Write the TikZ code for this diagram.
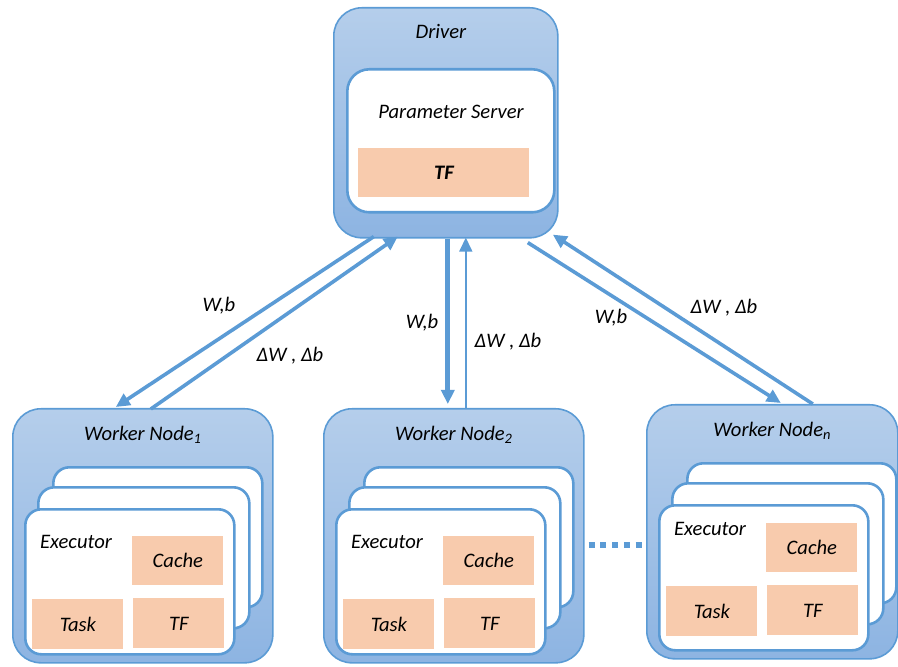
\documentclass[tikz,border=0pt]{standalone}
\usepackage{fontspec}
\setmainfont{Carlito}
\usetikzlibrary{arrows.meta, positioning, calc}
\definecolor{myblue}{RGB}{91,155,213}
\definecolor{boxtop}{RGB}{181,206,235}
\definecolor{boxbot}{RGB}{141,180,226}
\definecolor{mypeach}{RGB}{248,203,173}
\tikzset{
  outerbox/.style={rectangle, draw=myblue, top color=boxtop, bottom color=boxbot,
    rounded corners=14pt, line width=0.8pt, anchor=north west},
  card/.style={rectangle, draw=myblue, fill=white,
    rounded corners=8pt, line width=1.3pt, anchor=north west},
  tfbox/.style={rectangle, fill=mypeach, anchor=north west},
  sz/.style 2 args={minimum width=#1*0.5pt, minimum height=#2*0.5pt, inner sep=0pt},
  title/.style={font=\fontsize{10.3}{12}\selectfont\itshape},
  arrow/.style={-{Triangle[length=7pt,width=6.5pt]}, line width=1.8pt, color=myblue},
  dots/.style={line width=3pt, color=myblue, dash pattern=on 3pt off 2.875pt}
}

% worker: name, x, y, label, inner shift, width
\newcommand{\workernode}[6]{%
  \node[outerbox, sz={#6}{254}] (#1) at (#2,#3) {};
  \begin{scope}[shift={(#2,#3)}]
    \node[title] (#1-lbl) at (#6/2+1,27) {#4};
    \node[card, sz={209}{140}] (#1-c3) at (40,58) {};
    \node[card, sz={211}{141}] (#1-c2) at (25,78) {};
    \node[card, sz={209}{145}] (#1-c1) at (12,100) {};
    \node (#1-exe) at (64,134+#5) {Executor};
    \node[tfbox, sz={91}{49}] (#1-cache) at (120,128+#5) {Cache};
    \node[tfbox, sz={91}{50}] (#1-task) at (20,191+#5) {Task};
    \node[tfbox, sz={91}{50}] (#1-tf) at (121,190+#5) {TF};
  \end{scope}}

\begin{document}
\begin{tikzpicture}[x=0.5pt, y=-0.5pt, font=\fontsize{10.3}{12}\selectfont\itshape]
  \useasboundingbox (0,0) rectangle (898,667);

  % Driver with parameter server
  \node[outerbox, sz={224}{230}] (driver) at (333,7) {};
  \node[title] (drvlbl) at (441,31) {Driver};
  \node[card, rounded corners=11pt, sz={207}{143}] (ps) at (346,68) {};
  \node (pslbl) at (451,112) {Parameter Server};
  \node[tfbox, sz={171}{49}] (pstf) at (358,148) {\textbf{TF}};

  % Worker nodes
  \workernode{w1}{12}{408}{Worker Node\textsubscript{1}}{0}{260}
  \workernode{w2}{323}{408}{Worker Node\textsubscript{2}}{0}{260}
  \workernode{wn}{646}{404}{Worker Node\textsubscript{n}}{-9}{251}

  \draw[dots] ($(w2.east)+(4,9)$) -- ++(53,0);

  % Arrows
  \draw[arrow] ($(driver.south)+(-72,-2)$) -- ($(w1.north)+(-27,-1)$);
  \draw[arrow] ($(w1.north)+(8,1)$) -- ($(driver.south)+(-48,-2)$);
  \draw[arrow, line width=2.6pt] ($(driver.south)+(2,0)$) -- ($(w2.north)+(-6,-4)$);
  \draw[arrow, line width=0.8pt] ($(w2.north)+(12,0)$) -- ($(driver.south)+(20,-1)$);
  \draw[arrow] ($(driver.south)+(82,4)$) -- ($(wn.north)+(8.5,-1)$);
  \draw[arrow] ($(wn.north)+(40.5,0)$) -- ($(driver.south)+(107,-4)$);

  % Labels
  \node (wb1) at (219,306) {W,b};
  \node (dw1) at (290,356) {ΔW , Δb};
  \node (wb2) at (422,323) {W,b};
  \node (dw2) at (508,342) {ΔW , Δb};
  \node (wb3) at (611,318) {W,b};
  \node (dw3) at (724,308) {ΔW , Δb};
\end{tikzpicture}
\end{document}
